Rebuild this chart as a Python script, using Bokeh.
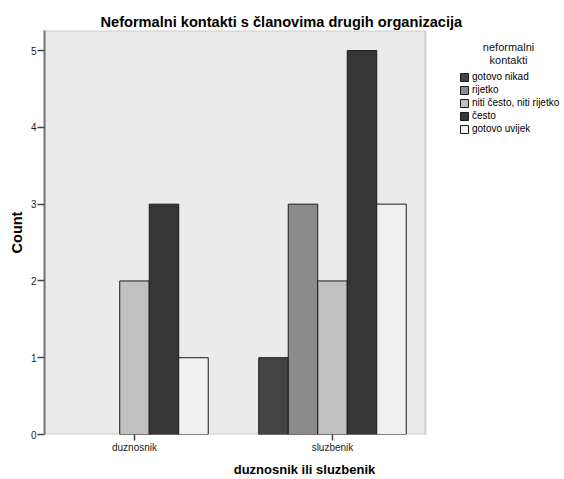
from bokeh.plotting import figure
from bokeh.models import (Range1d, FixedTicker, ColumnDataSource, Legend, LegendItem,
                          BoxAnnotation, Label)
from bokeh.embed import file_html
from bokeh.resources import INLINE

# ---- data ----
categories = ["duznosnik", "sluzbenik"]
series = ["gotovo nikad", "rijetko", "niti često, niti rijetko", "često", "gotovo uvijek"]
colors = ["#444444", "#8b8b8b", "#c0c0c0", "#363636", "#f0f0f0"]
counts_duznosnik = [0, 0, 2, 3, 1]
counts_sluzbenik = [1, 3, 2, 5, 3]
y_ticks = [0, 1, 2, 3, 4, 5]

title_text = "Neformalni kontakti s članovima drugih organizacija"
x_label = "duznosnik ili sluzbenik"
y_label = "Count"
legend_title = "neformalni\nkontakti"

FONT = "Liberation Sans"
n_series = len(series)
bar_w = 0.149
x_start, x_plot_end, x_end = -0.4545, 1.4697, 2.1717
y_end = 5.262

p = figure(width=564, height=479, output_backend="svg", toolbar_location=None,
           x_range=Range1d(x_start, x_end), y_range=Range1d(0, y_end),
           min_border_left=44, min_border_right=0, min_border_top=30,
           min_border_bottom=43)

p.background_fill_color = "white"
p.border_fill_color = "white"
p.outline_line_color = None
p.xgrid.visible = False
p.ygrid.visible = False

# plot area (grey box with border)
p.add_layout(BoxAnnotation(right=x_plot_end, fill_color="#ebebeb", fill_alpha=1,
                           line_color="#777777", line_width=2, level="underlay"))

items = []
for i, (name, col) in enumerate(zip(series, colors)):
    vals = [counts_duznosnik[i], counts_sluzbenik[i]]
    xs = [ci + (i - (n_series - 1) / 2) * bar_w for ci, v in enumerate(vals) if v > 0]
    tops = [v for v in vals if v > 0]
    src = ColumnDataSource(dict(x=xs, top=tops))
    r = p.vbar(x="x", top="top", bottom=0, width=bar_w, source=src,
               fill_color=col, line_color="#1a1a1a", line_width=1)
    items.append(LegendItem(label=name, renderers=[r]))

legend = Legend(items=items, location=(415, 300),
                glyph_width=10, glyph_height=10, label_height=10, label_standoff=3,
                spacing=2, padding=0, margin=0,
                border_line_alpha=0, background_fill_alpha=0,
                label_text_font=FONT, label_text_font_size="10px",
                label_text_color="black")
p.add_layout(legend, "center")

p.add_layout(Label(x=1.889, y=5.123, text=legend_title, text_align="center",
                   text_baseline="top", text_font=FONT, text_font_size="11px",
                   text_line_height=1.1, text_color="#111111"))

# title
p.title.text = title_text
p.title.align = "left"
p.title.offset = 56
p.title.standoff = 2
p.title.text_font = FONT
p.title.text_font_size = "14.6px"
p.title.text_font_style = "bold"
p.title.text_color = "black"

# axes
for ax in (p.xaxis[0], p.yaxis[0]):
    ax.major_tick_line_color = "#444444"
    ax.major_tick_line_width = 1.5
    ax.major_tick_in = 0
    ax.minor_tick_line_color = None
    ax.major_label_text_font = FONT
    ax.major_label_text_font_size = "10px"
    ax.major_label_text_color = "#222222"
    ax.axis_label_text_font = FONT
    ax.axis_label_text_font_style = "bold"
    ax.axis_label_text_color = "black"

p.xaxis.axis_line_color = None
p.yaxis.axis_line_color = "#777777"
p.yaxis.axis_line_width = 2

p.xaxis.ticker = FixedTicker(ticks=list(range(len(categories))))
p.xaxis.major_label_overrides = {i: c for i, c in enumerate(categories)}
p.xaxis.major_tick_out = 6
p.xaxis.major_label_standoff = 1
p.xaxis.major_label_text_line_height = 1.0
p.xaxis.axis_label = x_label
p.xaxis.axis_label_text_font_size = "13px"
p.xaxis.axis_label_text_line_height = 1.0
p.xaxis.axis_label_standoff = 6

p.yaxis.ticker = FixedTicker(ticks=y_ticks)
p.yaxis.major_tick_out = 7
p.yaxis.major_label_standoff = 1
p.yaxis.axis_label = y_label
p.yaxis.axis_label_text_font_size = "14.5px"
p.yaxis.axis_label_standoff = 3

open("out.html", "w").write(file_html(p, INLINE))
